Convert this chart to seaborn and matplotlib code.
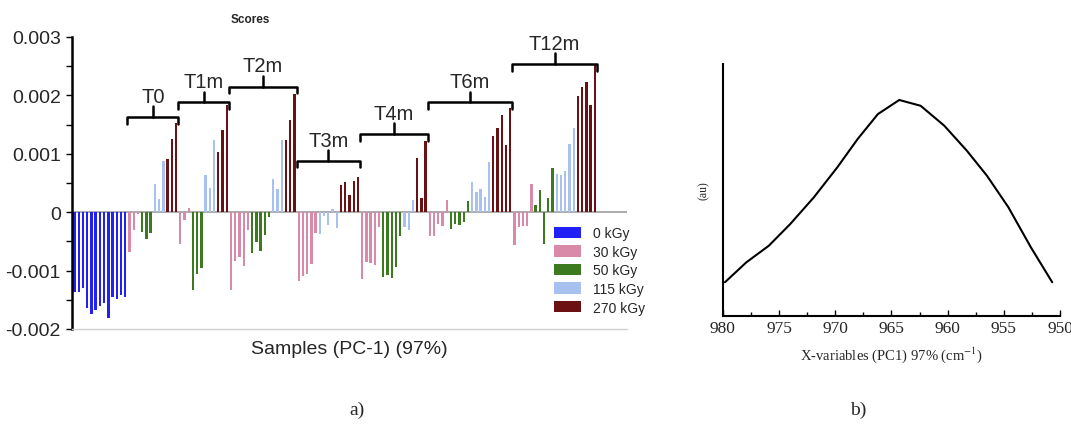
import numpy as np
import pandas as pd
import seaborn as sns
import matplotlib.pyplot as plt
from matplotlib.ticker import MultipleLocator

# ---------------- data: PCA scores (PC-1) ----------------
dose_labels = ['0 kGy', '30 kGy', '50 kGy', '115 kGy', '270 kGy']
time_labels = ['T0', 'T1m', 'T2m', 'T3m', 'T4m', 'T6m', 'T12m']

ctrl_0kGy = [-0.00136, -0.00136, -0.00130, -0.00164, -0.00174, -0.00168, -0.00160,
             -0.00156, -0.00181, -0.00145, -0.00148, -0.00141, -0.00145]

T0_30 = [-0.00068, -0.00031, -0.00003]
T0_50 = [-0.00034, -0.00046, -0.00036]
T0_115 = [0.00048, 0.00023, 0.00087]
T0_270 = [0.00091, 0.00126, 0.00153]

T1m_30 = [-0.00054, -0.00014, 0.00007]
T1m_50 = [-0.00134, -0.00106, -0.00095]
T1m_115 = [0.00063, 0.00041, 0.00123]
T1m_270 = [0.00103, 0.00141, 0.00184]

T2m_30 = [-0.00134, -0.00083, -0.00077, -0.00092, -0.00031]
T2m_50 = [-0.00070, -0.00051, -0.00066, -0.00039, -0.00009]
T2m_115 = [0.00056, 0.00040, 0.00123]
T2m_270 = [0.00124, 0.00157, 0.00203]

T3m_30 = [-0.00118, -0.00110, -0.00106, -0.00089, -0.00036]
T3m_115 = [-0.00037, -0.00007, -0.00022, 0.00005, -0.00027]
T3m_270 = [0.00047, 0.00051, 0.00030, 0.00054, 0.00060]

T4m_30 = [-0.00115, -0.00085, -0.00087, -0.00091, -0.00026]
T4m_50 = [-0.00111, -0.00107, -0.00113, -0.00094, -0.00041]
T4m_115 = [-0.00026, -0.00031, 0.00020]
T4m_270 = [0.00092, 0.00024, 0.00122]

T6m_30 = [-0.00040, -0.00041, -0.00020, -0.00024, 0.00021]
T6m_50 = [-0.00029, -0.00020, -0.00022, -0.00016, 0.00019]
T6m_115 = [0.00051, 0.00035, 0.00039, 0.00026, 0.00086]
T6m_270 = [0.00130, 0.00144, 0.00167, 0.00115, 0.00178]

T12m_30 = [-0.00056, -0.00025, -0.00023, -0.00023, 0.00048]
T12m_50 = [0.00012, 0.00038, -0.00054, 0.00024, 0.00075]
T12m_115 = [0.00066, 0.00063, 0.00071, 0.00116, 0.00144]
T12m_270 = [0.00198, 0.00215, 0.00223, 0.00183, 0.00254]

groups = [
    ('T0', [('30 kGy', T0_30), ('50 kGy', T0_50), ('115 kGy', T0_115), ('270 kGy', T0_270)]),
    ('T1m', [('30 kGy', T1m_30), ('50 kGy', T1m_50), ('115 kGy', T1m_115), ('270 kGy', T1m_270)]),
    ('T2m', [('30 kGy', T2m_30), ('50 kGy', T2m_50), ('115 kGy', T2m_115), ('270 kGy', T2m_270)]),
    ('T3m', [('30 kGy', T3m_30), ('115 kGy', T3m_115), ('270 kGy', T3m_270)]),
    ('T4m', [('30 kGy', T4m_30), ('50 kGy', T4m_50), ('115 kGy', T4m_115), ('270 kGy', T4m_270)]),
    ('T6m', [('30 kGy', T6m_30), ('50 kGy', T6m_50), ('115 kGy', T6m_115), ('270 kGy', T6m_270)]),
    ('T12m', [('30 kGy', T12m_30), ('50 kGy', T12m_50), ('115 kGy', T12m_115), ('270 kGy', T12m_270)]),
]

# ---------------- data: PC1 loading (b) ----------------
wavenumber = [979.8, 977.9, 975.9, 974.0, 971.9, 969.8, 968.0, 966.2,
              964.3, 962.4, 960.3, 958.3, 956.5, 954.6, 952.6, 950.7]
loading_au = [0.133, 0.212, 0.278, 0.364, 0.470, 0.590, 0.702, 0.801,
              0.857, 0.834, 0.755, 0.656, 0.556, 0.431, 0.272, 0.133]

# ---------------- assemble table ----------------
rows = []
for v in ctrl_0kGy:
    rows.append(('0 kGy', v, 'ctrl'))
for tl, segs in groups:
    for dose, vals in segs:
        for v in vals:
            rows.append((dose, v, tl))
df = pd.DataFrame(rows, columns=['dose', 'score', 'time'])
df['idx'] = np.arange(len(df))

palette = {'0 kGy': '#2121f5', '30 kGy': '#d98aa9', '50 kGy': '#3c7a1f',
           '115 kGy': '#a9c1ee', '270 kGy': '#6b1013'}

# ---------------- figure ----------------
sns.set_theme(style='white')
plt.rcParams['font.family'] = ['Liberation Sans', 'DejaVu Sans']
plt.rcParams['mathtext.fontset'] = 'stix'

fig = plt.figure(figsize=(10.71, 4.27), dpi=100)

ax = fig.add_axes([0.0672, 0.2272, 0.5182, 0.684])
ax.axhline(0, color='#a5a5a5', lw=1.3, zorder=0.5)
sns.barplot(data=df, x='idx', y='score', hue='dose', hue_order=dose_labels,
            palette=palette, dodge=False, native_scale=True, width=0.55,
            saturation=1, linewidth=0, ax=ax)
ax.set_xlim(-0.6, 130.6)
ax.set_ylim(-0.002, 0.003)
ax.set_xticks([])
ax.set_yticks([-0.002, -0.001, 0, 0.001, 0.002, 0.003])
ax.set_yticklabels(['-0.002', '-0.001', '0', '0.001', '0.002', '0.003'], fontsize=14)
ax.yaxis.set_minor_locator(MultipleLocator(0.0005))
ax.tick_params(axis='y', which='major', direction='out', length=4, width=1, left=True, pad=4, color='black')
ax.tick_params(axis='y', which='minor', direction='out', length=4, width=1, left=True, color='black')
for s in ['top', 'right']:
    ax.spines[s].set_visible(False)
ax.spines['left'].set_color('black')
ax.spines['left'].set_linewidth(1.8)
ax.spines['bottom'].set_color('#d0d0d0')
ax.spines['bottom'].set_linewidth(1.0)
ax.set_ylabel('')
ax.set_xlabel('Samples (PC-1) (97%)', fontsize=14, labelpad=8)

ax.legend(loc='upper left', bbox_to_anchor=(0.868, 0.352), frameon=False, fontsize=10,
          handlelength=2.0, handleheight=0.9, handletextpad=0.8, labelspacing=0.33,
          borderpad=0, borderaxespad=0)

# brackets over the time-point groups
bracket_y = [0.00163, 0.00188, 0.00215, 0.00088, 0.00134, 0.00188, 0.00254]
start = len(ctrl_0kGy)
drop, rise = 0.000115, 0.00018
for (tl, segs), yb in zip(groups, bracket_y):
    n = sum(len(v) for _, v in segs)
    x0, x1 = start - 0.5, start + n - 0.5
    xc = (x0 + x1) / 2
    ax.plot([x0, x0, x1, x1], [yb - drop, yb, yb, yb - drop], color='black', lw=1.8,
            solid_joinstyle='round', solid_capstyle='round', clip_on=False)
    ax.plot([xc, xc], [yb, yb + rise], color='black', lw=1.8, solid_capstyle='round', clip_on=False)
    ax.text(xc, yb + rise + 0.00001, tl, ha='center', va='bottom', fontsize=14.5)
    start += n

fig.text(250 / 1071, 1 - 20 / 427, 'Scores', ha='center', va='center', fontsize=8.5, fontweight='bold')

# ---------------- right panel ----------------
ax2 = fig.add_axes([0.6748, 0.2583, 0.3150, 0.5895])
sns.lineplot(x=wavenumber, y=loading_au, color='black', lw=1.5, ax=ax2)
ax2.set_xlim(980, 950)
ax2.set_ylim(0, 1)
ax2.set_yticks([])
ax2.set_xticks([980, 975, 970, 965, 960, 955, 950])
ax2.set_xticklabels(['980', '975', '970', '965', '960', '955', '950'],
                    fontsize=12.5, family='Liberation Serif')
ax2.xaxis.set_minor_locator(MultipleLocator(2.5))
ax2.tick_params(axis='x', which='major', direction='in', length=4, width=1, bottom=True, color='black', pad=3)
ax2.tick_params(axis='x', which='minor', direction='in', length=3, width=1, bottom=True, color='black')
for s in ['top', 'right']:
    ax2.spines[s].set_visible(False)
for s in ['left', 'bottom']:
    ax2.spines[s].set_color('black')
    ax2.spines[s].set_linewidth(1.5)
ax2.set_ylabel('(au)', fontsize=8.5, family='Liberation Serif', labelpad=9)
ax2.set_xlabel(r'X-variables (PC1) 97% (cm$^{-1}$)', fontsize=10.5, family='Liberation Serif', labelpad=6)

fig.text(357 / 1071, 1 - 410 / 427, 'a)', ha='center', va='center', fontsize=14, family='Liberation Serif')
fig.text(858 / 1071, 1 - 410 / 427, 'b)', ha='center', va='center', fontsize=14, family='Liberation Serif')

fig.savefig('out.png', dpi=100)
